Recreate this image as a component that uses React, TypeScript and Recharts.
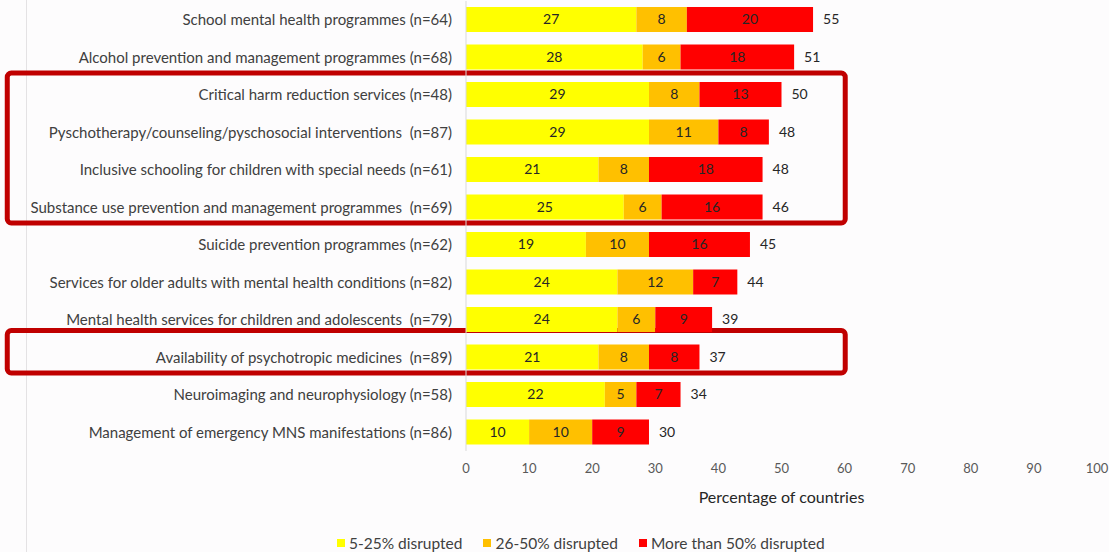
import React from 'react';
import { BarChart, Bar, XAxis, YAxis, LabelList, ReferenceArea, Legend } from 'recharts';

const categories = [
  'School mental health programmes (n=64)',
  'Alcohol prevention and management programmes (n=68)',
  'Critical harm reduction services (n=48)',
  'Pyschotherapy/counseling/pyschosocial interventions\u00A0 (n=87)',
  'Inclusive schooling for children with special needs (n=61)',
  'Substance use prevention and management programmes\u00A0 (n=69)',
  'Suicide prevention programmes (n=62)',
  'Services for older adults with mental health conditions (n=82)',
  'Mental health services for children and adolescents\u00A0 (n=79)',
  'Availability of psychotropic medicines\u00A0 (n=89)',
  'Neuroimaging and neurophysiology (n=58)',
  'Management of emergency MNS manifestations (n=86)',
];
const low = [27, 28, 29, 29, 21, 25, 19, 24, 24, 21, 22, 10];
const mid = [8, 6, 8, 11, 8, 6, 10, 12, 6, 8, 5, 10];
const high = [20, 18, 13, 8, 18, 16, 16, 7, 9, 8, 7, 9];
const totals = [55, 51, 50, 48, 48, 46, 45, 44, 39, 37, 34, 30];
const xTicks = [0, 10, 20, 30, 40, 50, 60, 70, 80, 90, 100];

const seriesNames = ['5-25% disrupted', '26-50% disrupted', 'More than 50% disrupted'];
const seriesColors = ['#FFFF00', '#FFC000', '#FF0000'];

// highlighted groups: [first category index, last category index]
const highlights = [
  [2, 5],
  [9, 9],
];
const highlightX = [-72.7, 60.1];
const highlightTopPad = [3, 8];

const data = categories.map((name, i) => ({
  name,
  low: low[i],
  mid: mid[i],
  high: high[i],
  total: totals[i],
}));

const FONT = 'Lato, "Open Sans", sans-serif';

const makeBox = (pad: number) => (props: any) => (
  <rect
    x={props.x}
    y={props.y - pad}
    width={props.width}
    height={props.height + pad - 3}
    rx={4}
    ry={4}
    fill="none"
    stroke="#C00000"
    strokeWidth={5}
  />
);

const LegendContent = () => (
  <div style={{ display: 'flex', alignItems: 'center', height: 18, fontFamily: FONT, fontSize: 15.5, color: '#404040', whiteSpace: 'nowrap' }}>
    {seriesNames.map((n, i) => (
      <div key={n} style={{ display: 'flex', alignItems: 'center', marginRight: i < 2 ? 21 : 0 }}>
        <span style={{ display: 'inline-block', width: 8, height: 8, background: seriesColors[i], marginRight: 4 }} />
        <span>{n}</span>
      </div>
    ))}
  </div>
);

export default function App() {
  return (
    <div style={{ position: 'fixed', left: 0, top: 0, width: 1109, height: 552, background: '#fdfcfd', overflow: 'hidden' }}>
      <div style={{ position: 'absolute', left: 26, top: 0, width: 1, height: 552, background: '#e4e2e4' }} />
      <BarChart
        width={1109}
        height={552}
        data={data}
        layout="vertical"
        margin={{ top: 1, right: 12, bottom: 23, left: 0 }}
        barSize={25}
        style={{ fontFamily: FONT }}
      >
        <XAxis
          type="number"
          domain={[0, 100]}
          ticks={xTicks}
          interval={0}
          tickLine={false}
          axisLine={false}
          tickMargin={7}
          height={60}
          tick={{ fill: '#595959', fontSize: 13 }}
          label={{ value: 'Percentage of countries', position: 'insideBottom', offset: 8, fill: '#262626', fontSize: 16 }}
        />
        <YAxis
          type="category"
          dataKey="name"
          width={466}
          interval={0}
          tickLine={false}
          axisLine={{ stroke: '#d9d9d9' }}
          tickMargin={8}
          tick={{ fill: '#404040', fontSize: 15 }}
        />
        {highlights.map(([a, b], i) => (
          <ReferenceArea
            key={i}
            x1={highlightX[0]}
            x2={highlightX[1]}
            y1={categories[a]}
            y2={categories[b]}
            ifOverflow="visible"
            shape={makeBox(highlightTopPad[i])}
          />
        ))}
        <Bar dataKey="low" stackId="s" fill={seriesColors[0]} name={seriesNames[0]} isAnimationActive={false}>
          <LabelList dataKey="low" position="center" fill="#262626" fontSize={14} />
        </Bar>
        <Bar dataKey="mid" stackId="s" fill={seriesColors[1]} name={seriesNames[1]} isAnimationActive={false}>
          <LabelList dataKey="mid" position="center" fill="#262626" fontSize={14} />
        </Bar>
        <Bar dataKey="high" stackId="s" fill={seriesColors[2]} name={seriesNames[2]} isAnimationActive={false}>
          <LabelList dataKey="high" position="center" fill="#262626" fontSize={14} />
          <LabelList dataKey="total" position="right" offset={10} fill="#262626" fontSize={14} />
        </Bar>
        <Legend
          verticalAlign="bottom"
          content={LegendContent}
          wrapperStyle={{ left: 337, top: 534, bottom: 'auto', width: 560, height: 18 }}
        />
      </BarChart>
    </div>
  );
}
